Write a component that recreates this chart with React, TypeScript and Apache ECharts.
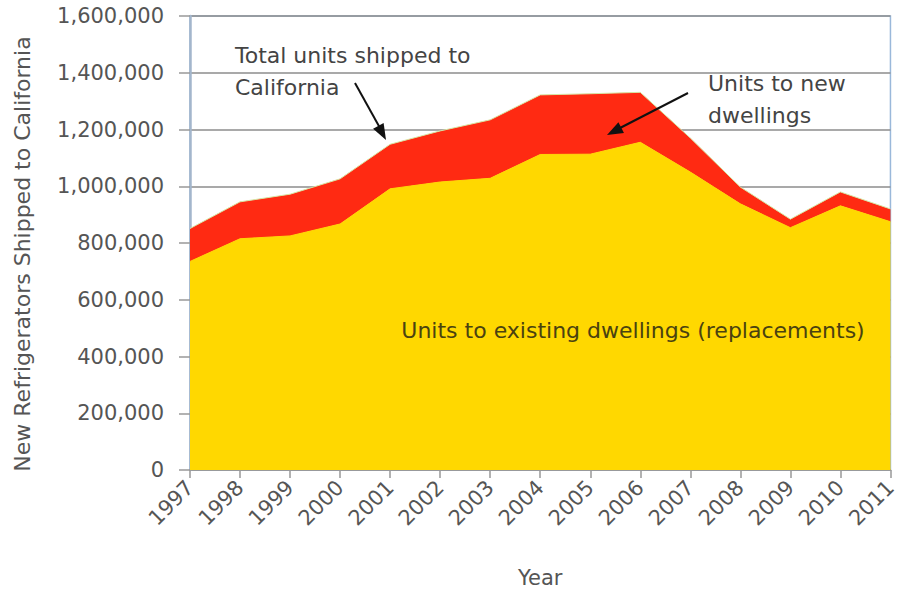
import React, { useEffect, useRef } from "react";
import * as echarts from "echarts";

const years = ["1997","1998","1999","2000","2001","2002","2003","2004","2005","2006","2007","2008","2009","2010","2011"];
const existingDwellings = [735000, 815000, 825000, 867000, 991000, 1015000, 1028000, 1112000, 1113000, 1155000, 1050000, 938000, 854000, 931000, 875000];
const newDwellings = [116000, 130000, 147000, 159000, 157000, 180000, 206000, 210000, 213000, 176000, 120000, 59000, 30000, 49000, 45000];
const yTicks = { min: 0, max: 1600000, interval: 200000 };

const FONT = "DejaVu Sans";

export default function App() {
  const ref = useRef<HTMLDivElement>(null);
  useEffect(() => {
    if (!ref.current) return;
    const chart = echarts.init(ref.current, undefined, { renderer: "svg" });
    const arrowHead = (tipX: number, tipY: number, fromX: number, fromY: number) => {
      const ang = Math.atan2(tipY - fromY, tipX - fromX);
      const len = 16, half = 6;
      const bx = tipX - len * Math.cos(ang), by = tipY - len * Math.sin(ang);
      const px = -Math.sin(ang) * half, py = Math.cos(ang) * half;
      return {
        type: "polygon",
        shape: { points: [[tipX, tipY], [bx + px, by + py], [bx - px, by - py]] },
        style: { fill: "#111" },
        z: 100,
      };
    };
    chart.setOption({
      animation: false,
      textStyle: { fontFamily: FONT },
      grid: {
        left: 190, right: 3, top: 16, bottom: 120,
        show: true, borderColor: "#9ab8da", borderWidth: 1.5, backgroundColor: "transparent",
      },
      xAxis: {
        type: "category",
        data: years,
        boundaryGap: false,
        name: "Year",
        nameLocation: "middle",
        nameGap: 97,
        nameTextStyle: { fontFamily: FONT, fontSize: 21, color: "#555" },
        axisLine: { lineStyle: { color: "#999", width: 1.5 } },
        axisTick: { show: true, length: 8, lineStyle: { color: "#999", width: 1.5 } },
        axisLabel: { rotate: 45, margin: 14, fontFamily: FONT, fontSize: 21, color: "#555" },
        splitLine: { show: false },
      },
      yAxis: {
        type: "value",
        min: yTicks.min, max: yTicks.max, interval: yTicks.interval,
        axisLine: { show: true, lineStyle: { color: "#a3b6cc", width: 2.5 } },
        axisTick: { show: true, length: 11, lineStyle: { color: "#999", width: 1.5 } },
        axisLabel: {
          margin: 26, fontFamily: FONT, fontSize: 21, color: "#555",
          formatter: (v: number) => v.toLocaleString("en-US"),
        },
        splitLine: { show: true, lineStyle: { color: "#8c8c8c", width: 1.5 } },
      },
      series: [
        {
          name: "Units to existing dwellings (replacements)",
          type: "line",
          stack: "total",
          data: existingDwellings,
          symbol: "none",
          lineStyle: { color: "#FFD800", width: 1 },
          areaStyle: { color: "#FFD800", opacity: 1 },
          z: 2,
        },
        {
          name: "Units to new dwellings",
          type: "line",
          stack: "total",
          data: newDwellings,
          symbol: "none",
          lineStyle: { color: "#d6e6a4", width: 1 },
          areaStyle: { color: "#FF2A12", opacity: 1 },
          z: 2,
        },
      ],
      graphic: [
        {
          type: "text", x: 22, y: 254, rotation: Math.PI / 2,
          style: { text: "New Refrigerators Shipped to California", font: `22px '${FONT}'`, fill: "#555", align: "center", verticalAlign: "middle" },
        },
        {
          type: "text", x: 235, y: 55,
          style: { text: "Total units shipped to", font: `22px '${FONT}'`, fill: "#444", align: "left", verticalAlign: "middle" },
          z: 100,
        },
        {
          type: "text", x: 235, y: 87,
          style: { text: "California", font: `22px '${FONT}'`, fill: "#444", align: "left", verticalAlign: "middle" },
          z: 100,
        },
        {
          type: "text", x: 708, y: 83,
          style: { text: "Units to new", font: `22px '${FONT}'`, fill: "#444", align: "left", verticalAlign: "middle" },
          z: 100,
        },
        {
          type: "text", x: 708, y: 115,
          style: { text: "dwellings", font: `22px '${FONT}'`, fill: "#444", align: "left", verticalAlign: "middle" },
          z: 100,
        },
        {
          type: "text", x: 633, y: 330,
          style: { text: "Units to existing dwellings (replacements)", font: `22px '${FONT}'`, fill: "#4a4210", align: "center", verticalAlign: "middle" },
          z: 100,
        },
        {
          type: "line", shape: { x1: 355, y1: 83, x2: 380, y2: 128 },
          style: { stroke: "#111", lineWidth: 2 }, z: 100,
        },
        arrowHead(386, 140, 355, 83),
        {
          type: "line", shape: { x1: 688, y1: 93, x2: 620, y2: 128 },
          style: { stroke: "#111", lineWidth: 2 }, z: 100,
        },
        arrowHead(607, 135, 688, 93),
      ],
    });
    return () => chart.dispose();
  }, []);
  return <div ref={ref} style={{ position: "fixed", left: 0, top: 0, width: 900, height: 593, background: "#fff" }} />;
}
